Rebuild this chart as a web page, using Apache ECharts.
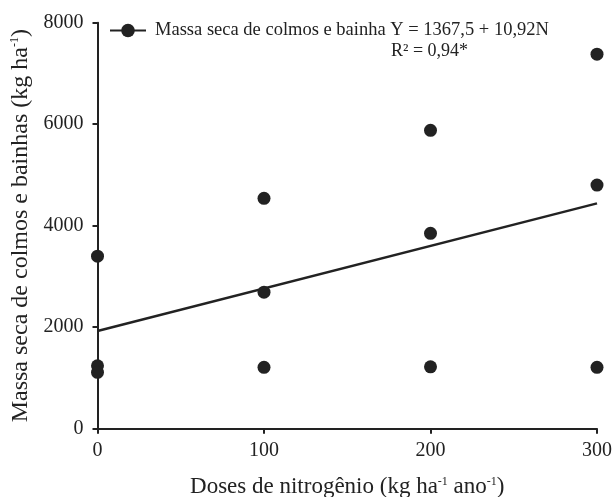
<!DOCTYPE html>
<html>
<head>
<meta charset="utf-8">
<script src="https://cdn.jsdelivr.net/npm/echarts@6/dist/echarts.min.js"></script>
<style>
  html, body { margin: 0; padding: 0; background: #fff; }
  #chart { width: 614px; height: 497px; }
</style>
</head>
<body>
<div id="chart"></div>
<script>
// Nitrogen doses (kg ha-1 ano-1) and observed dry mass of stems and sheaths (kg ha-1)
const doses = [0, 0, 0, 100, 100, 100, 200, 200, 200, 300, 300, 300];
const massaSeca = [3400, 1240, 1110, 4540, 2690, 1210, 5880, 3850, 1220, 7380, 4800, 1210];

// Fitted regression line, end points
const fitDoses = [0, 300];
const fitValues = [1925, 4440];

// Axis ticks
const xTicks = [0, 100, 200, 300];
const yTicks = [0, 2000, 4000, 6000, 8000];

const seriesName = 'Massa seca de colmos e bainha Y = 1367,5 + 10,92N';
const r2Text = 'R\u00B2 = 0,94*';

const FONT = '"Liberation Serif", "Times New Roman", serif';
const INK = '#222';

const chart = echarts.init(document.getElementById('chart'), null, { renderer: 'canvas' });

const supStyle = { fontSize: 12, fontFamily: FONT, color: INK, verticalAlign: 'top', lineHeight: 16 };

const option = {
  backgroundColor: '#fff',
  animation: false,
  textStyle: { fontFamily: FONT, color: INK },
  grid: {
    left: 97.5, right: 17, top: 22.7, bottom: 68.3,
    containLabel: false,
    outerBoundsMode: 'none'
  },
  legend: {
    show: true,
    left: 109,
    top: 21,
    padding: 0,
    itemWidth: 36,
    itemHeight: 17,
    itemGap: 0,
    data: [seriesName],
    textStyle: { fontFamily: FONT, fontSize: 18.5, color: INK, padding: [0, 0, 0, 4] }
  },
  graphic: [{
    type: 'text',
    left: 391,
    top: 42,
    style: { text: r2Text, font: '18px ' + FONT, fill: INK }
  }],
  xAxis: {
    type: 'value',
    min: xTicks[0],
    max: xTicks[xTicks.length - 1],
    interval: 100,
    name: 'Doses de nitrogênio (kg ha{s|-1} ano{s|-1})',
    nameLocation: 'middle',
    nameGap: 47,
    nameTextStyle: {
      fontFamily: FONT, fontSize: 23, color: INK,
      rich: { s: supStyle }
    },
    axisLine: { show: true, onZero: false, lineStyle: { color: INK, width: 2 } },
    axisTick: { show: true, inside: false, length: 5, lineStyle: { color: INK, width: 2 } },
    axisLabel: { fontFamily: FONT, fontSize: 20, color: INK, margin: 12 },
    splitLine: { show: false }
  },
  yAxis: {
    type: 'value',
    min: yTicks[0],
    max: yTicks[yTicks.length - 1],
    interval: 2000,
    name: 'Massa seca de colmos e bainhas (kg ha{s|-1})',
    nameLocation: 'middle',
    nameGap: 58,
    nameTextStyle: {
      fontFamily: FONT, fontSize: 24, color: INK,
      rich: { s: supStyle }
    },
    axisLine: { show: true, onZero: false, lineStyle: { color: INK, width: 2 } },
    axisTick: { show: true, inside: false, length: 5, lineStyle: { color: INK, width: 2 } },
    axisLabel: {
      fontFamily: FONT, fontSize: 20, color: INK, margin: 14,
      formatter: v => String(v)
    },
    splitLine: { show: false }
  },
  series: [
    {
      name: seriesName,
      type: 'line',
      data: fitDoses.map((d, i) => [d, fitValues[i]]),
      symbol: 'circle',
      symbolSize: 13,
      showSymbol: false,
      lineStyle: { color: INK, width: 2.4 },
      itemStyle: { color: INK },
      z: 2
    },
    {
      name: 'obs',
      type: 'scatter',
      data: doses.map((d, i) => [d, massaSeca[i]]),
      symbol: 'circle',
      symbolSize: 13,
      itemStyle: { color: INK, opacity: 1 },
      clip: false,
      z: 3
    }
  ]
};

chart.setOption(option);
</script>
</body>
</html>
